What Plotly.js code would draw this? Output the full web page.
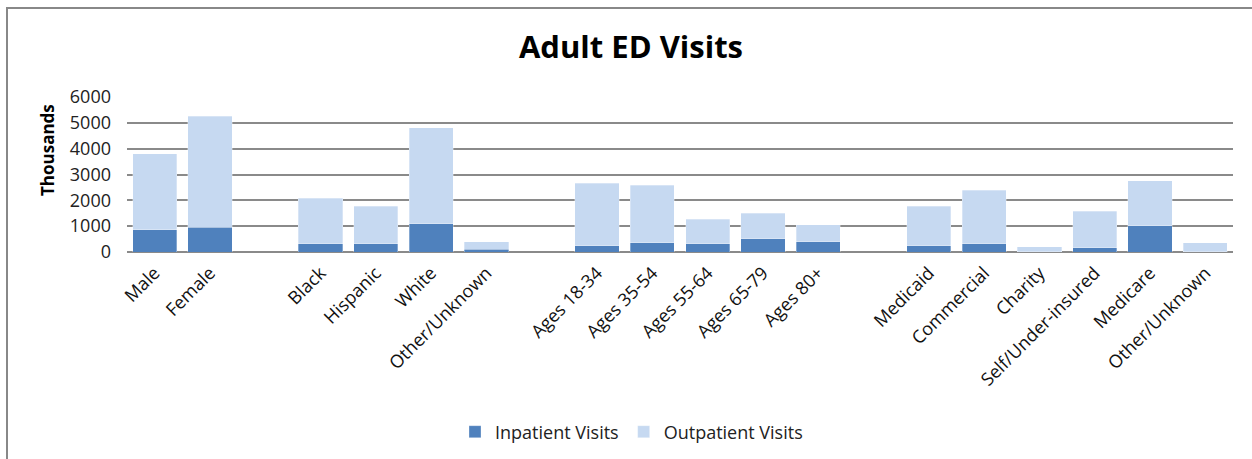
<!DOCTYPE html>
<html>
<head>
<meta charset="utf-8">
<script src="https://cdn.plot.ly/plotly-3.0.1.min.js"></script>
<style>
  html, body { margin: 0; padding: 0; background: #fff; }
  #wrap { position: relative; width: 1252px; height: 459px; overflow: hidden; }
  #frame { position: absolute; left: 6px; top: 7px; width: 1300px; height: 500px;
           border-top: 2px solid #888; border-left: 2px solid #888; pointer-events: none; }
  #chart { position: absolute; left: 0; top: 0; width: 1252px; height: 459px; }
</style>
</head>
<body>
<div id="wrap">
  <div id="chart"></div>
  <div id="frame"></div>
</div>
<script>
// Category labels ("" = spacer slot between groups)
const categories = [
  "Male", "Female", "",
  "Black", "Hispanic", "White", "Other/Unknown", "",
  "Ages 18-34", "Ages 35-54", "Ages 55-64", "Ages 65-79", "Ages 80+", "",
  "Medicaid", "Commercial", "Charity", "Self/Under-insured", "Medicare", "Other/Unknown"
];
// Values in thousands
const inpatientVisits = [
  870, 950, null,
  325, 325, 1100, 100, null,
  250, 365, 325, 520, 400, null,
  250, 325, 15, 170, 1020, 15
];
const outpatientVisits = [
  2930, 4300, null,
  1755, 1445, 3715, 300, null,
  2410, 2215, 940, 980, 660, null,
  1520, 2065, 195, 1405, 1730, 350
];
const yTicks = [0, 1000, 2000, 3000, 4000, 5000, 6000];

const xIdx = categories.map((c, i) => i);
const FONT = "Open Sans, Liberation Sans, sans-serif";

// Plot area in pixels
const L = 127, R = 19, T = 97, B = 207, W = 1252, H = 459;
const plotW = W - L - R, plotH = H - T - B;

const traces = [
  { type: "bar", name: "Inpatient Visits", x: xIdx, y: inpatientVisits,
    marker: { color: "#4F81BD", line: { color: "rgba(255,255,255,0.6)", width: 0.5 } },
    hoverinfo: "skip" },
  { type: "bar", name: "Outpatient Visits", x: xIdx, y: outpatientVisits,
    marker: { color: "#C6D9F1", line: { color: "rgba(255,255,255,0.6)", width: 0.5 } },
    hoverinfo: "skip" }
];

const layout = {
  width: W, height: H,
  margin: { l: L, r: R, t: T, b: B },
  paper_bgcolor: "#fff", plot_bgcolor: "#fff",
  barmode: "stack", bargap: 0.2,
  font: { family: FONT, color: "#222", size: 18 },
  title: { text: "<b>Adult ED Visits</b>", font: { family: FONT, size: 31, color: "#000" },
           x: 0.504, xanchor: "center", y: 1 - 47 / H, yanchor: "middle", yref: "container" },
  xaxis: {
    range: [-0.5, categories.length - 0.5],
    tickmode: "array", tickvals: xIdx, ticktext: categories,
    tickangle: -45, tickfont: { family: FONT, size: 18, color: "#111" },
    ticklabelstandoff: 6,
    showgrid: false, zeroline: false, showline: false, ticks: "",
    fixedrange: true
  },
  yaxis: {
    range: [0, 6000], tickmode: "array", tickvals: yTicks,
    tickfont: { family: FONT, size: 18, color: "#222" },
    showgrid: true, gridcolor: "#8a8a8a", gridwidth: 2,
    zeroline: true, zerolinecolor: "#8a8a8a", zerolinewidth: 2,
    showline: false, ticks: "", ticklabelstandoff: 15,
    fixedrange: true
  },
  annotations: [{
    text: "<b>Thousands</b>", textangle: -90, showarrow: false,
    xref: "paper", yref: "paper",
    x: (47 - L) / plotW, y: (H - B - 150) / plotH, xanchor: "center", yanchor: "middle",
    font: { family: FONT, size: 17, color: "#000" }
  }],
  showlegend: true,
  legend: {
    orientation: "h", xref: "container", yref: "container",
    x: (469 - 14) / W, xanchor: "left",
    y: 1 - 432 / H, yanchor: "middle",
    font: { family: FONT, size: 18, color: "#222" }, traceorder: "normal",
    itemwidth: 30, bgcolor: "rgba(0,0,0,0)"
  }
};

Plotly.newPlot("chart", traces, layout, { displayModeBar: false, staticPlot: true });
</script>
</body>
</html>
